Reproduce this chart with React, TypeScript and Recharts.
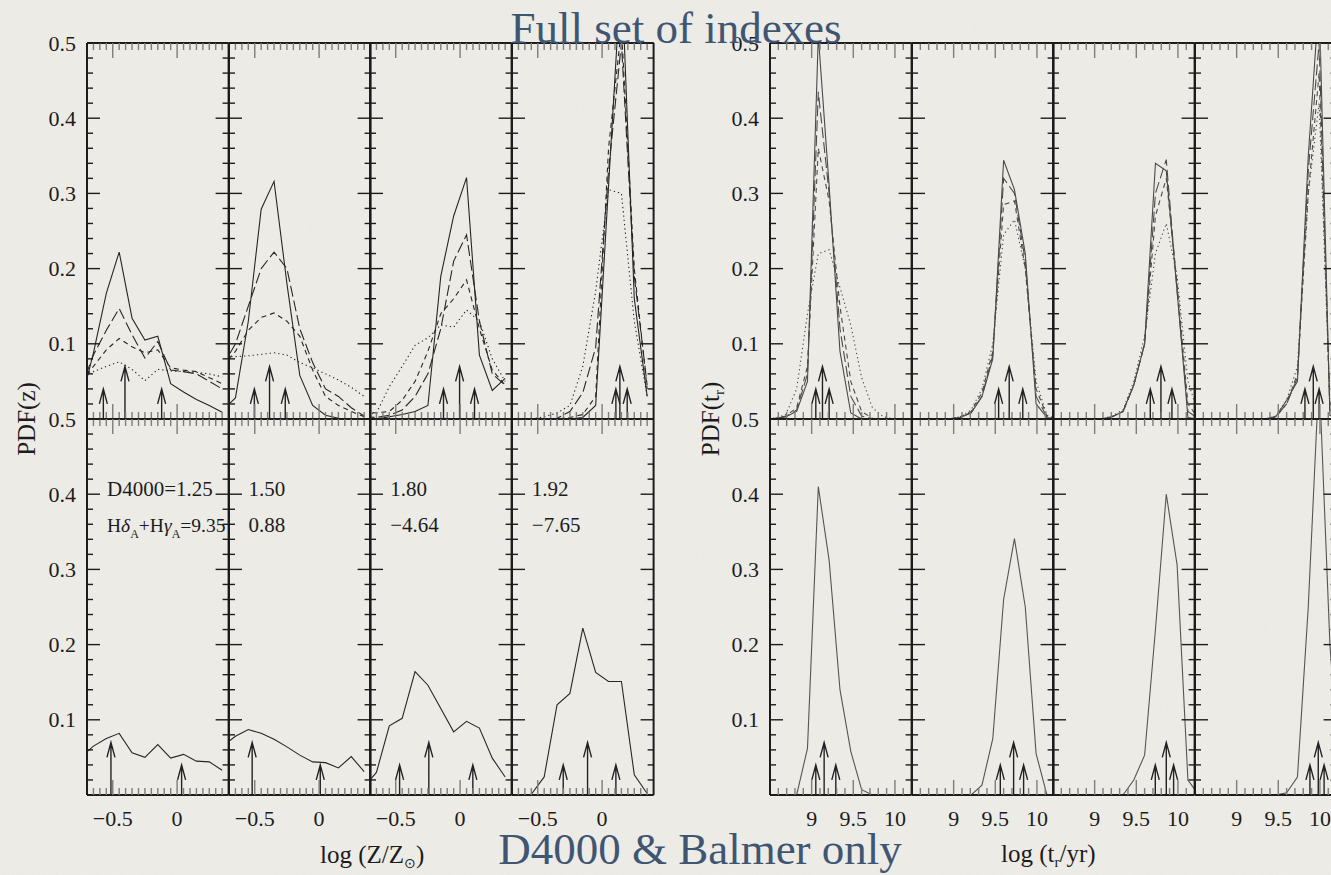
import { ComposedChart, Line, Scatter, XAxis, YAxis } from 'recharts';

// sampling grids: metallicity (log Z/Zsun) and r-band weighted age (log t_r/yr)
const Z_GRID = [-0.75, -0.65, -0.55, -0.45, -0.35, -0.25, -0.15, -0.05, 0.05, 0.15, 0.25, 0.35];
const T_GRID = [8.43, 8.56, 8.69, 8.82, 8.95, 9.08, 9.21, 9.34, 9.47, 9.6, 9.73, 9.86, 9.99, 10.12, 10.25];

// full set of indexes, metallicity PDFs (solid, long dash, short dash, dotted)
const Z1_SOLID = [0.02, 0.088, 0.167, 0.222, 0.134, 0.105, 0.11, 0.047, 0.036, 0.026, 0.018, 0.009];
const Z1_LONG = [0.04, 0.085, 0.118, 0.147, 0.112, 0.081, 0.103, 0.065, 0.063, 0.06, 0.05, 0.04];
const Z1_SHORT = [0.05, 0.07, 0.092, 0.107, 0.096, 0.088, 0.092, 0.068, 0.065, 0.063, 0.055, 0.047];
const Z1_DOT = [0.058, 0.063, 0.07, 0.076, 0.066, 0.051, 0.066, 0.064, 0.063, 0.062, 0.06, 0.056];

const Z2_SOLID = [0.012, 0.028, 0.13, 0.279, 0.316, 0.18, 0.058, 0.018, 0.005, 0.001, 0, 0];
const Z2_LONG = [0.07, 0.1, 0.15, 0.2, 0.222, 0.2, 0.12, 0.075, 0.04, 0.03, 0.015, 0.004];
const Z2_SHORT = [0.07, 0.09, 0.118, 0.135, 0.141, 0.13, 0.11, 0.065, 0.03, 0.018, 0.01, 0.003];
const Z2_DOT = [0.083, 0.083, 0.084, 0.086, 0.088, 0.085, 0.075, 0.068, 0.06, 0.052, 0.042, 0.03];

const Z3_SOLID = [0, 0, 0.003, 0.006, 0.01, 0.018, 0.19, 0.27, 0.321, 0.085, 0.038, 0.054];
const Z3_LONG = [0.003, 0.002, 0.005, 0.012, 0.03, 0.06, 0.12, 0.21, 0.245, 0.13, 0.06, 0.045];
const Z3_SHORT = [0.01, 0.008, 0.01, 0.025, 0.05, 0.09, 0.14, 0.16, 0.185, 0.12, 0.065, 0.045];
const Z3_DOT = [0.005, 0.008, 0.043, 0.07, 0.098, 0.108, 0.125, 0.122, 0.145, 0.13, 0.08, 0.05];

const Z4_SOLID = [0, 0, 0, 0, 0, 0, 0.002, 0.018, 0.31, 0.6, 0.16, 0.03];
const Z4_LONG = [0, 0, 0, 0, 0.001, 0.01, 0.035, 0.095, 0.33, 0.5, 0.19, 0.045];
const Z4_SHORT = [0, 0, 0, 0, 0, 0.002, 0.006, 0.03, 0.36, 0.52, 0.2, 0.04];
const Z4_DOT = [0, 0, 0, 0.003, 0.008, 0.018, 0.07, 0.17, 0.305, 0.3, 0.13, 0.03];

// D4000 & Balmer only, metallicity PDFs
const ZB1 = [0.05, 0.065, 0.075, 0.082, 0.056, 0.05, 0.067, 0.049, 0.054, 0.045, 0.044, 0.033];
const ZB2 = [0.065, 0.078, 0.087, 0.082, 0.074, 0.064, 0.053, 0.044, 0.043, 0.036, 0.051, 0.031];
const ZB3 = [0.01, 0.03, 0.092, 0.102, 0.164, 0.146, 0.115, 0.084, 0.098, 0.089, 0.049, 0.024];
const ZB4 = [0, 0, 0.001, 0.024, 0.12, 0.135, 0.222, 0.163, 0.151, 0.151, 0.027, 0.002];

// full set of indexes, age PDFs
const T1_SOLID = [0, 0, 0.003, 0.01, 0.05, 0.51, 0.31, 0.09, 0.008, 0, 0, 0, 0, 0, 0];
const T1_LONG = [0, 0.001, 0.003, 0.012, 0.06, 0.435, 0.3, 0.12, 0.03, 0.004, 0, 0, 0, 0, 0];
const T1_SHORT = [0, 0.001, 0.004, 0.015, 0.07, 0.36, 0.29, 0.15, 0.05, 0.01, 0.001, 0, 0, 0, 0];
const T1_DOT = [0, 0.001, 0.006, 0.04, 0.14, 0.22, 0.225, 0.175, 0.125, 0.055, 0.015, 0.003, 0, 0, 0];

const T2_SOLID = [0, 0, 0, 0, 0, 0.002, 0.008, 0.03, 0.08, 0.344, 0.305, 0.22, 0.02, 0.002, 0];
const T2_LONG = [0, 0, 0, 0, 0, 0.002, 0.009, 0.03, 0.085, 0.32, 0.3, 0.21, 0.03, 0.003, 0];
const T2_SHORT = [0, 0, 0, 0, 0, 0.003, 0.01, 0.035, 0.09, 0.285, 0.29, 0.2, 0.04, 0.004, 0];
const T2_DOT = [0, 0, 0, 0, 0, 0.003, 0.012, 0.04, 0.1, 0.245, 0.265, 0.2, 0.05, 0.005, 0];

const T3_SOLID = [0, 0, 0, 0, 0, 0, 0.003, 0.01, 0.045, 0.1, 0.34, 0.33, 0.17, 0.002, 0];
const T3_LONG = [0, 0, 0, 0, 0, 0, 0.003, 0.01, 0.045, 0.1, 0.3, 0.345, 0.17, 0.01, 0];
const T3_SHORT = [0, 0, 0, 0, 0, 0, 0.003, 0.01, 0.045, 0.1, 0.27, 0.32, 0.18, 0.02, 0];
const T3_DOT = [0, 0, 0, 0, 0, 0, 0.004, 0.012, 0.05, 0.11, 0.22, 0.26, 0.19, 0.05, 0.005];

const T4_SOLID = [0, 0, 0, 0, 0, 0, 0, 0, 0.003, 0.025, 0.05, 0.35, 0.56, 0.005, 0];
const T4_LONG = [0, 0, 0, 0, 0, 0, 0, 0, 0.003, 0.02, 0.055, 0.33, 0.5, 0.01, 0];
const T4_SHORT = [0, 0, 0, 0, 0, 0, 0, 0, 0.003, 0.02, 0.06, 0.3, 0.46, 0.015, 0];
const T4_DOT = [0, 0, 0, 0, 0, 0, 0, 0, 0.004, 0.025, 0.07, 0.3, 0.42, 0.02, 0];

// D4000 & Balmer only, age PDFs
const TB1 = [0, 0, 0, 0, 0.062, 0.41, 0.312, 0.14, 0.058, 0.007, 0, 0, 0, 0, 0];
const TB2 = [0, 0, 0, 0, 0, 0, 0, 0.013, 0.075, 0.26, 0.341, 0.25, 0.055, 0, 0];
const TB3 = [0, 0, 0, 0, 0, 0, 0, 0, 0.02, 0.053, 0.22, 0.4, 0.306, 0.02, 0];
const TB4 = [0, 0, 0, 0, 0, 0, 0, 0, 0, 0.003, 0.024, 0.25, 0.56, 0.2, 0];

// percentile arrows per panel: [16th, median, 84th] (null = off the plot)
const ZT_ARROWS = [[-0.573, -0.405, -0.12], [-0.503, -0.385, -0.263], [-0.129, -0.004, 0.112], [0.107, 0.138, 0.195]];
const ZB_ARROWS = [[null, -0.514, 0.035], [null, -0.52, 0.009], [-0.47, -0.243, 0.099], [-0.302, -0.113, 0.107]];
const TT_ARROWS = [[9.05, 9.13, 9.21], [9.54, 9.667, 9.83], [9.668, 9.796, 9.928], [9.82, 9.92, 9.99]];
const TB_ARROWS = [[9.05, 9.15, 9.29], [9.56, 9.72, 9.84], [9.728, 9.86, 9.948], [9.88, 9.98, 10.05]];
const ARROW_SHORT = 0.04;
const ARROW_TALL = 0.07;

// index values of the four test spectra
const D4000 = ['1.25', '1.50', '1.80', '1.92'];
const HDG = ['9.35', '0.88', '\u22124.64', '\u22127.65'];

// axis ticks
const Z_MAJOR = [-0.5, 0];
const Z_LABELS = ['\u22120.5', '0'];
const T_MAJOR = [9, 9.5, 10];
const T_LABELS = ['9', '9.5', '10'];
const Y_MAJOR = [0.1, 0.2, 0.3, 0.4, 0.5];
const Y_LABELS = ['0.1', '0.2', '0.3', '0.4', '0.5'];

const steps = (from: number, to: number, step: number) => {
  const out: number[] = [];
  for (let v = from; v <= to + 1e-9; v += step) out.push(+v.toFixed(3));
  return out;
};
const Z_TICKS = steps(-0.65, 0.35, 0.05);
const T_TICKS = steps(8.6, 10.1, 0.1);
const Y_TICKS = steps(0.02, 0.5, 0.02);

const PANEL_W = 141.6;
const PANEL_H = 376;
// axes need a non-zero band, so every chart carries a 1px rim round its plot
const RIM = 1;
const ROW_TOP = [43, 419];
const Z_LEFTS = [87, 228.6, 370.2, 511.8];
const T_LEFTS = [770, 911.6, 1053.2, 1194.8];

const INK = '#1c1c1c';
const TICK_GREY = '#7d7d7d';
const SERIF = "'Liberation Serif', 'Times New Roman', serif";
const TITLE_BLUE = '#3f5673';

const DASH = { solid: undefined, long: '11 4', short: '5 4', dot: '1.3 3' };

const find = (list: number[], v: number) => list.findIndex((m) => Math.abs(m - v) < 1e-6);

const makeXTick = (edge: 'top' | 'bottom', majors: number[], labels: string[] | null) => (props: any) => {
  const { x, y, payload } = props;
  const idx = find(majors, payload.value);
  const len = idx >= 0 ? 15 : 7;
  const dir = edge === 'bottom' ? -1 : 1;
  return (
    <g>
      <line x1={x} x2={x} y1={y} y2={y + dir * len} stroke={TICK_GREY} strokeWidth={1.4} />
      {labels && idx >= 0 && (
        <text x={x} y={y + 31} textAnchor="middle" fontFamily={SERIF} fontSize={22} fill={INK}>
          {labels[idx]}
        </text>
      )}
    </g>
  );
};

const makeYTick = (edge: 'left' | 'right', labelled: boolean) => (props: any) => {
  const { x, y, payload } = props;
  const idx = find(Y_MAJOR, payload.value);
  const len = idx >= 0 ? 13 : 6;
  const dir = edge === 'left' ? 1 : -1;
  return (
    <g>
      <line x1={x} x2={x + dir * len} y1={y} y2={y} stroke={INK} strokeWidth={1.4} />
      {labelled && idx >= 0 && (
        <text x={x - 11} y={y + 7.5} textAnchor="end" fontFamily={SERIF} fontSize={22} fill={INK}>
          {Y_LABELS[idx]}
        </text>
      )}
    </g>
  );
};

// open arrowhead on a stem rising from the x axis
const arrowShape = (props: any) => {
  const { cx, cy } = props;
  const base = PANEL_H + RIM;
  return (
    <path
      d={`M${cx},${base} L${cx},${cy} M${cx - 4},${cy + 15} L${cx},${cy} L${cx + 4},${cy + 15}`}
      stroke="#222"
      strokeWidth={1.4}
      fill="none"
    />
  );
};

interface PanelProps {
  left: number;
  top: number;
  grid: number[];
  series: { ys: number[]; dash?: string }[];
  arrows: (number | null)[];
  domain: [number, number];
  xTicks: number[];
  xMajors: number[];
  xLabels: string[] | null;
  yLabels: boolean;
  color: string;
}

const frame = { stroke: INK, strokeWidth: 2 };

function Panel({ left, top, grid, series, arrows, domain, xTicks, xMajors, xLabels, yLabels, color }: PanelProps) {
  const pts = arrows.flatMap((x, i) => (x === null ? [] : [{ x, y: i === 1 ? ARROW_TALL : ARROW_SHORT }]));
  return (
    <div style={{ position: 'absolute', left: left - RIM, top: top - RIM }}>
      <ComposedChart width={PANEL_W + 2 * RIM} height={PANEL_H + 2 * RIM} margin={{ top: 0, right: 0, bottom: 0, left: 0 }}>
        <XAxis xAxisId="b" orientation="bottom" type="number" dataKey="x" domain={domain} allowDataOverflow
          ticks={xTicks} interval={0} height={RIM} tickSize={0} tickMargin={0} axisLine={frame} tickLine={false}
          tick={makeXTick('bottom', xMajors, xLabels)} />
        <XAxis xAxisId="t" orientation="top" type="number" dataKey="x" domain={domain} allowDataOverflow
          ticks={xTicks} interval={0} height={RIM} tickSize={0} tickMargin={0} axisLine={frame} tickLine={false}
          tick={makeXTick('top', xMajors, null)} />
        <YAxis yAxisId="l" orientation="left" type="number" dataKey="y" domain={[0, 0.5]} allowDataOverflow
          ticks={Y_TICKS} interval={0} width={RIM} tickSize={0} tickMargin={0} axisLine={frame} tickLine={false}
          tick={makeYTick('left', yLabels)} />
        <YAxis yAxisId="r" orientation="right" type="number" dataKey="y" domain={[0, 0.5]} allowDataOverflow
          ticks={Y_TICKS} interval={0} width={RIM} tickSize={0} tickMargin={0} axisLine={frame} tickLine={false}
          tick={makeYTick('right', false)} />
        {series.map((s, i) => (
          <Line key={i} xAxisId="b" yAxisId="l" data={grid.map((x, j) => ({ x, y: s.ys[j] }))} dataKey="y"
            type="linear" stroke={color} strokeWidth={1.1} strokeDasharray={s.dash} dot={false} activeDot={false}
            isAnimationActive={false} />
        ))}
        <Scatter xAxisId="b" yAxisId="l" data={pts} dataKey="y" shape={arrowShape} isAnimationActive={false} />
      </ComposedChart>
    </div>
  );
}

const four = (a: number[], b: number[], c: number[], d: number[]) => [
  { ys: a, dash: DASH.solid },
  { ys: b, dash: DASH.long },
  { ys: c, dash: DASH.short },
  { ys: d, dash: DASH.dot },
];

const Z_TOP = [
  four(Z1_SOLID, Z1_LONG, Z1_SHORT, Z1_DOT),
  four(Z2_SOLID, Z2_LONG, Z2_SHORT, Z2_DOT),
  four(Z3_SOLID, Z3_LONG, Z3_SHORT, Z3_DOT),
  four(Z4_SOLID, Z4_LONG, Z4_SHORT, Z4_DOT),
];
const Z_BOTTOM = [ZB1, ZB2, ZB3, ZB4];
const T_TOP = [
  four(T1_SOLID, T1_LONG, T1_SHORT, T1_DOT),
  four(T2_SOLID, T2_LONG, T2_SHORT, T2_DOT),
  four(T3_SOLID, T3_LONG, T3_SHORT, T3_DOT),
  four(T4_SOLID, T4_LONG, T4_SHORT, T4_DOT),
];
const T_BOTTOM = [TB1, TB2, TB3, TB4];

export default function App() {
  const panels: JSX.Element[] = [];
  for (let i = 0; i < 4; i++) {
    panels.push(
      <Panel key={`zt${i}`} left={Z_LEFTS[i]} top={ROW_TOP[0]} grid={Z_GRID} series={Z_TOP[i]} arrows={ZT_ARROWS[i]}
        domain={[-0.7, 0.4]} xTicks={Z_TICKS} xMajors={Z_MAJOR} xLabels={null} yLabels={i === 0} color="#262626" />,
      <Panel key={`zb${i}`} left={Z_LEFTS[i]} top={ROW_TOP[1]} grid={Z_GRID} series={[{ ys: Z_BOTTOM[i] }]}
        arrows={ZB_ARROWS[i]} domain={[-0.7, 0.4]} xTicks={Z_TICKS} xMajors={Z_MAJOR} xLabels={Z_LABELS}
        yLabels={i === 0} color="#262626" />,
      <Panel key={`tt${i}`} left={T_LEFTS[i]} top={ROW_TOP[0]} grid={T_GRID} series={T_TOP[i]} arrows={TT_ARROWS[i]}
        domain={[8.5, 10.2]} xTicks={T_TICKS} xMajors={T_MAJOR} xLabels={null} yLabels={i === 0} color="#4a4a4a" />,
      <Panel key={`tb${i}`} left={T_LEFTS[i]} top={ROW_TOP[1]} grid={T_GRID} series={[{ ys: T_BOTTOM[i] }]}
        arrows={TB_ARROWS[i]} domain={[8.5, 10.2]} xTicks={T_TICKS} xMajors={T_MAJOR} xLabels={T_LABELS}
        yLabels={i === 0} color="#555555" />,
    );
  }

  const sub = (s: string) => (
    <tspan fontSize={12} dy={6}>{s}</tspan>
  );

  return (
    <div style={{ position: 'absolute', left: 0, top: 0, width: 1331, height: 875, overflow: 'hidden', background: '#efede8' }}>
      <style>{'.recharts-surface{overflow:visible}'}</style>
      <svg width={1331} height={875} style={{ position: 'absolute', left: 0, top: 0 }}>
        <filter id="paper">
          <feTurbulence type="fractalNoise" baseFrequency="0.85" numOctaves={2} seed={3} />
          <feColorMatrix type="saturate" values="0" />
        </filter>
        <rect width={1331} height={875} fill="#efede8" />
        <rect width={1331} height={875} filter="url(#paper)" opacity={0.07} />
      </svg>
      {panels}
      <svg width={1331} height={875} style={{ position: 'absolute', left: 0, top: 0, pointerEvents: 'none' }}>
        <g fontFamily={SERIF} fill={INK} fontSize={21}>
          {D4000.map((d, i) => (
            <text key={`d${i}`} x={Z_LEFTS[i] + 20} y={496}>{i === 0 ? `D4000=${d}` : d}</text>
          ))}
          {HDG.map((h, i) =>
            i === 0 ? (
              <text key={`h${i}`} x={Z_LEFTS[i] + 20} y={532} fontSize={19.5}>
                H<tspan fontStyle="italic">δ</tspan>{sub('A')}<tspan dy={-6}>+H</tspan>
                <tspan fontStyle="italic">γ</tspan>{sub('A')}<tspan dy={-6}>={h}</tspan>
              </text>
            ) : (
              <text key={`h${i}`} x={Z_LEFTS[i] + 20} y={532}>{h}</text>
            ),
          )}
        </g>
        <g fontFamily={SERIF} fill={INK} fontSize={25}>
          <text transform="translate(35,419) rotate(-90)" textAnchor="middle">PDF(z)</text>
          <text transform="translate(719,419) rotate(-90)" textAnchor="middle">
            PDF(t<tspan fontSize={15} dy={5}>r</tspan><tspan dy={-5}>)</tspan>
          </text>
          <text x={320} y={863}>
            log (Z/Z<tspan fontSize={14} dy={5}>⊙</tspan><tspan dy={-5}>)</tspan>
          </text>
          <text x={1001} y={862}>
            log (t<tspan fontSize={15} dy={5}>r</tspan><tspan dy={-5}>/yr)</tspan>
          </text>
        </g>
        <g fontFamily={SERIF} fill={TITLE_BLUE} fontSize={45}>
          <text x={676} y={43} textAnchor="middle">Full set of indexes</text>
          <text x={700} y={864} textAnchor="middle">D4000 &amp; Balmer only</text>
        </g>
      </svg>
    </div>
  );
}
